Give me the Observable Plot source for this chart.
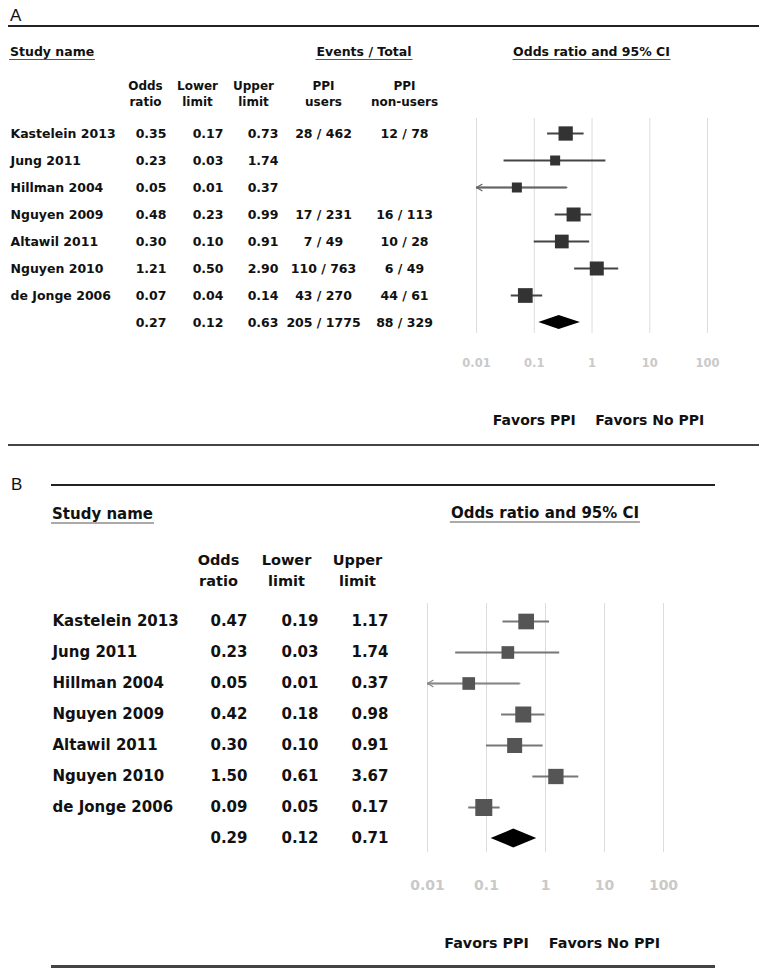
<!DOCTYPE html>
<html><head><meta charset="utf-8">
<script src="https://cdn.jsdelivr.net/npm/d3@7"></script>
<script src="https://cdn.jsdelivr.net/npm/@observablehq/plot@0.6"></script>
<style>
body{margin:0;background:#fff;}
#page{position:relative;width:764px;height:976px;overflow:hidden;font-family:"DejaVu Sans",sans-serif;color:#111;}
#page svg{position:absolute;left:0;top:0;}
.rule{position:absolute;}
.lbl{position:absolute;font-family:"Liberation Sans",Arial,sans-serif;line-height:1;color:#111;}
.hd{position:absolute;font-weight:bold;line-height:1;white-space:nowrap;padding:0 1px;}
</style></head><body><div id="page"></div>
<script>
// ---------- data ----------
const studies = ["Kastelein 2013","Jung 2011","Hillman 2004","Nguyen 2009","Altawil 2011","Nguyen 2010","de Jonge 2006"];
const pooledKey = "Pooled";
const rowKeys = [...studies, pooledKey];

// Panel A
const orA = [0.35, 0.23, 0.05, 0.48, 0.30, 1.21, 0.07];
const loA = [0.17, 0.03, 0.01, 0.23, 0.10, 0.50, 0.04];
const hiA = [0.73, 1.74, 0.37, 0.99, 0.91, 2.90, 0.14];
const usersA = ["28 / 462", "", "", "17 / 231", "7 / 49", "110 / 763", "43 / 270"];
const nonUsersA = ["12 / 78", "", "", "16 / 113", "10 / 28", "6 / 49", "44 / 61"];
const weightA = [17.0, 8.3, 8.3, 16.3, 15.7, 16.3, 18.0]; // relative weights (estimated from square sizes)
const pooledA = {or: 0.27, lo: 0.12, hi: 0.63, users: "205 / 1775", non: "88 / 329"};

// Panel B
const orB = [0.47, 0.23, 0.05, 0.42, 0.30, 1.50, 0.09];
const loB = [0.19, 0.03, 0.01, 0.18, 0.10, 0.61, 0.05];
const hiB = [1.17, 1.74, 0.37, 0.98, 0.91, 3.67, 0.17];
const weightB = [15.6, 10.2, 10.2, 16.3, 14.3, 14.9, 18.4];
const pooledB = {or: 0.29, lo: 0.12, hi: 0.71};

const tickValues = [0.01, 0.1, 1, 10, 100];
const favorLabels = [{at: 0.1, text: "Favors PPI"}, {at: 10, text: "Favors No PPI"}];

// ---------- build rows ----------
const f2 = d3.format(".2f");
const rowsA = studies.map((s, i) => ({key: s, name: s, or: orA[i], lo: loA[i], hi: hiA[i], users: usersA[i], non: nonUsersA[i], w: weightA[i]}));
const tableA = [...rowsA, {key: pooledKey, name: "", ...pooledA}];
const rowsB = studies.map((s, i) => ({key: s, name: s, or: orB[i], lo: loB[i], hi: hiB[i], w: weightB[i]}));
const tableB = [...rowsB, {key: pooledKey, name: "", ...pooledB}];

const page = document.getElementById("page");
const FONT = "DejaVu Sans";

function tablePlot(rows, L, yRange, events) {
  const common = {y: "key", fontSize: L.fs, fontWeight: "bold", fill: "#111"};
  const head = (label, x) => Plot.text([label], {x, frameAnchor: "top", lineAnchor: "middle", dy: L.headDy, text: d => d, lineHeight: L.headLH, fontSize: L.headFs, fontWeight: "bold", fill: "#111", textAnchor: "middle"});
  const marks = [
    Plot.text(rows, {...common, x: L.name, text: "name", textAnchor: "start"}),
    Plot.text(rows, {...common, x: L.or, text: d => f2(d.or), textAnchor: "end"}),
    Plot.text(rows, {...common, x: L.lo, text: d => f2(d.lo), textAnchor: "end"}),
    Plot.text(rows, {...common, x: L.hi, text: d => f2(d.hi), textAnchor: "end"}),
    head("Odds\nratio", L.hOr),
    head("Lower\nlimit", L.hLo),
    head("Upper\nlimit", L.hHi)
  ];
  if (events) {
    marks.push(
      Plot.text(rows, {...common, x: L.users, text: "users", textAnchor: "middle"}),
      Plot.text(rows, {...common, x: L.non, text: "non", textAnchor: "middle"}),
      head("PPI\nusers", L.users),
      head("PPI\nnon-users", L.non)
    );
  }
  return Plot.plot({
    width: 764, height: 976, margin: 0,
    x: {type: "linear", domain: [0, 764], range: [0, 764], axis: null},
    y: {type: "point", domain: rowKeys, range: yRange, padding: 0, axis: null},
    style: {background: "none", fontFamily: FONT, overflow: "visible"},
    marks
  });
}

function forestPlot(rows, pooled, S) {
  const diamond = (index, scales) => {
    const x = scales.x, y = scales.y;
    const cy = y(pooledKey);
    const pts = [[x(pooled.lo), cy], [x(pooled.or), cy - S.half], [x(pooled.hi), cy], [x(pooled.or), cy + S.half]];
    return d3.create("svg:polygon").attr("points", pts.map(p => p.join(",")).join(" ")).attr("fill", "#000").node();
  };
  return Plot.plot({
    width: 764, height: 976,
    marginTop: S.frameTop, marginBottom: 976 - S.frameBottom, marginLeft: 0, marginRight: 0,
    x: {type: "log", domain: [0.01, 100], range: S.xRange, axis: null},
    y: {type: "point", domain: rowKeys, range: S.yRange, padding: 0, axis: null},
    r: {type: "sqrt", domain: [0, S.wMax], range: [0, S.rMax]},
    style: {background: "none", fontFamily: FONT, overflow: "visible"},
    marks: [
      Plot.ruleX(tickValues, {stroke: "#dcdcdc", strokeWidth: 1}),
      Plot.axisX(tickValues, {anchor: "bottom", tickSize: 0, tickPadding: S.pad, tickFormat: d => String(d), color: "#c9c9c9", fill: "#c9c9c9", fontSize: S.tickFs, fontWeight: "bold", label: null}),
      Plot.ruleY(rows, {x1: d => Math.max(d.lo, 0.01), x2: "hi", y: "key", stroke: S.line, strokeWidth: 2}),
      Plot.arrow(rows.filter(d => d.lo <= 0.01), {x1: "hi", x2: "lo", y1: "key", y2: "key", stroke: S.arrow, strokeWidth: 1.2, headLength: 8}),
      Plot.dot(rows, {x: "or", y: "key", r: "w", symbol: "square", fill: S.sq, stroke: "none"}),
      diamond,
      Plot.text(favorLabels, {x: "at", text: "text", frameAnchor: "bottom", lineAnchor: "middle", dy: S.favDy, fontSize: S.favFs, fontWeight: "bold", fill: "#111"})
    ]
  });
}

function rule(left, top, width, h, color) {
  const el = document.createElement("div");
  el.className = "rule";
  Object.assign(el.style, {left: left + "px", top: top + "px", width: width + "px", height: h + "px", background: color});
  page.appendChild(el);
}
function label(text, left, baseline, fs) {
  const el = document.createElement("div");
  el.className = "lbl";
  el.textContent = text;
  Object.assign(el.style, {left: left + "px", top: (baseline - 0.8465 * fs) + "px", fontSize: fs + "px"});
  page.appendChild(el);
}
function heading(text, {left, center, baseline, fs, lw, lc}) {
  const el = document.createElement("div");
  el.className = "hd";
  el.textContent = text;
  Object.assign(el.style, {top: (baseline - 0.846 * fs) + "px", fontSize: fs + "px", borderBottom: `${lw}px solid ${lc}`});
  if (center != null) { el.style.left = center + "px"; el.style.transform = "translateX(-50%)"; }
  else el.style.left = (left - 1) + "px";
  page.appendChild(el);
}

// ---------- Panel A ----------
const LA = {name: 10, or: 166, lo: 223, hi: 278, users: 323, non: 404, hOr: 145, hLo: 197, hHi: 253, fs: 12.5, headFs: 12, headDy: 92, headLH: 1.35};
const tA = tablePlot(tableA, LA, [132, 322], true);
const fA = forestPlot(rowsA, pooledA, {xRange: [476, 707], yRange: [132, 322], frameTop: 118, frameBottom: 333, pad: 25, tickFs: 11.5, favDy: 87, favFs: 14, sq: "#333", line: "#444", arrow: "#666", wMax: 18, rMax: 8.3, half: 7});
page.appendChild(tA); page.appendChild(fA);

label("A", 10, 21, 17);
rule(8, 25, 751, 2, "#222");
rule(8, 444, 751, 2, "#444");
heading("Study name", {left: 10, baseline: 57, fs: 12.5, lw: 1.5, lc: "#555"});
heading("Events / Total", {center: 364, baseline: 57, fs: 12.5, lw: 1.5, lc: "#555"});
heading("Odds ratio and 95% CI", {center: fA.scale("x").apply(1), baseline: 57, fs: 12.5, lw: 1.5, lc: "#555"});

// ---------- Panel B ----------
const LB = {name: 52, or: 247, lo: 318, hi: 388, hOr: 218, hLo: 286, hHi: 357, fs: 15, headFs: 14.5, headDy: 568, headLH: 1.5};
const tB = tablePlot(tableB, LB, [618, 840], false);
const fB = forestPlot(rowsB, pooledB, {xRange: [427, 663], yRange: [618, 840], frameTop: 603, frameBottom: 852, pad: 28, tickFs: 14, favDy: 91, favFs: 14.3, sq: "#555", line: "#777", arrow: "#888", wMax: 18.4, rMax: 9.6, half: 9.5});
page.appendChild(tB); page.appendChild(fB);

label("B", 11, 490, 17);
rule(51, 484, 664, 2, "#222");
rule(51, 965, 664, 3, "#444");
heading("Study name", {left: 52, baseline: 520, fs: 15, lw: 2, lc: "#aaa"});
heading("Odds ratio and 95% CI", {center: fB.scale("x").apply(1), baseline: 519, fs: 15, lw: 2, lc: "#aaa"});
</script></body></html>
